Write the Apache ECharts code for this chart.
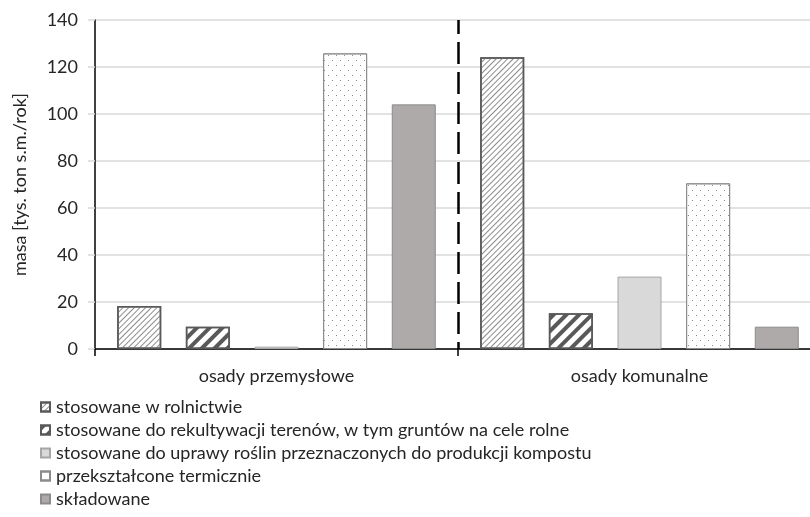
<!DOCTYPE html>
<html>
<head>
<meta charset="utf-8">
<script src="https://cdn.jsdelivr.net/npm/echarts@6/dist/echarts.min.js"></script>
<style>
    html, body { margin: 0; padding: 0; background: #fff; }
    #chart { width: 810px; height: 517px; }
</style>
</head>
<body>
<div id="chart"></div>
<script>
// kategorie osi X
const categories = ['osady przemysłowe', 'osady komunalne']

// nazwy serii (legenda)
const seriesNames = [
    'stosowane w rolnictwie',
    'stosowane do rekultywacji terenów, w tym gruntów na cele rolne',
    'stosowane do uprawy roślin przeznaczonych do produkcji kompostu',
    'przekształcone termicznie',
    'składowane'
]

// wartości [przemysłowe, komunalne]
const rolnictwo = [18.3, 124.1]
const rekultywacja = [9.5, 15.2]
const kompost = [1.0, 30.8]
const termicznie = [125.8, 70.5]
const skladowane = [104.1, 9.5]

// ticki osi Y
const yMin = 0
const yMax = 140
const yStep = 20

const FONT = 'Lato'

// wygląd słupków
const styles = [
    {
        color: '#ffffff', borderColor: '#595959', borderWidth: 1.5,
        decal: { symbol: 'rect', symbolSize: 1, color: '#8c8c8c', dashArrayX: [1, 0], dashArrayY: [1, 2.5], rotation: -Math.PI / 4 }
    },
    {
        color: '#ffffff', borderColor: '#595959', borderWidth: 1.5,
        decal: { symbol: 'rect', symbolSize: 1, color: '#595959', dashArrayX: [1, 0], dashArrayY: [3.5, 5], rotation: -Math.PI / 4 }
    },
    { color: '#d9d9d9', borderColor: '#a6a6a6', borderWidth: 1 },
    {
        color: '#ffffff', borderColor: '#8c8c8c', borderWidth: 1,
        decal: { symbol: 'rect', symbolSize: 1, color: '#8c8c8c', dashArrayX: [[1, 7], [0, 4, 1, 3]], dashArrayY: [1, 4] }
    },
    { color: '#aeaaaa', borderColor: '#8c8c8c', borderWidth: 1 }
]

const values = [rolnictwo, rekultywacja, kompost, termicznie, skladowane]

const chart = echarts.init(document.getElementById('chart'), null, { renderer: 'canvas' })

const series = seriesNames.map((name, i) => ({
    name,
    type: 'bar',
    xAxisIndex: 0,
    barWidth: 44,
    barGap: '56%',
    itemStyle: styles[i],
    data: values[i]
}))

chart.setOption({
    animation: false,
    backgroundColor: '#ffffff',
    textStyle: { fontFamily: FONT },
    grid: { left: 95, top: 20, right: -11, height: 329, outerBoundsMode: 'none', containLabel: false },
    legend: {
        orient: 'vertical',
        left: 40,
        top: 398,
        padding: 0,
        height: 119,
        itemWidth: 9,
        itemHeight: 9,
        itemGap: 5,
        icon: 'rect',
        textStyle: { fontFamily: FONT, fontSize: 18, color: '#262626', lineHeight: 18, padding: [0, 0, 0, 1] },
        data: seriesNames
    },
    xAxis: [
        {
            type: 'category',
            data: categories,
            axisLine: { lineStyle: { color: '#000', width: 1.5 } },
            axisTick: { show: true, length: 7, lineStyle: { color: '#000', width: 1.5 } },
            axisLabel: { fontFamily: FONT, fontSize: 18, color: '#262626', margin: 18 },
            splitLine: { show: false }
        },
        {
            // niewidoczna oś do linii podziału między kategoriami
            type: 'value',
            position: 'top',
            min: 0,
            max: categories.length,
            interval: 1,
            axisLine: { show: false },
            axisTick: { show: false },
            axisLabel: { show: false },
            splitLine: {
                show: true,
                showMinLine: false,
                showMaxLine: false,
                lineStyle: { color: '#000', width: 2.5, type: [22, 8], dashOffset: 8 }
            }
        }
    ],
    yAxis: {
        type: 'value',
        min: yMin,
        max: yMax,
        interval: yStep,
        name: 'masa [tys. ton s.m./rok]',
        nameLocation: 'middle',
        nameGap: 66,
        nameTextStyle: { fontFamily: FONT, fontSize: 18, color: '#262626' },
        axisLine: { show: true, lineStyle: { color: '#000', width: 1.5 } },
        axisTick: { show: true, length: 7, lineStyle: { color: '#d9d9d9', width: 1.5 } },
        axisLabel: { fontFamily: FONT, fontSize: 18, color: '#262626', margin: 17 },
        splitLine: { lineStyle: { color: '#d9d9d9', width: 1.5 } }
    },
    series
})
</script>
</body>
</html>
